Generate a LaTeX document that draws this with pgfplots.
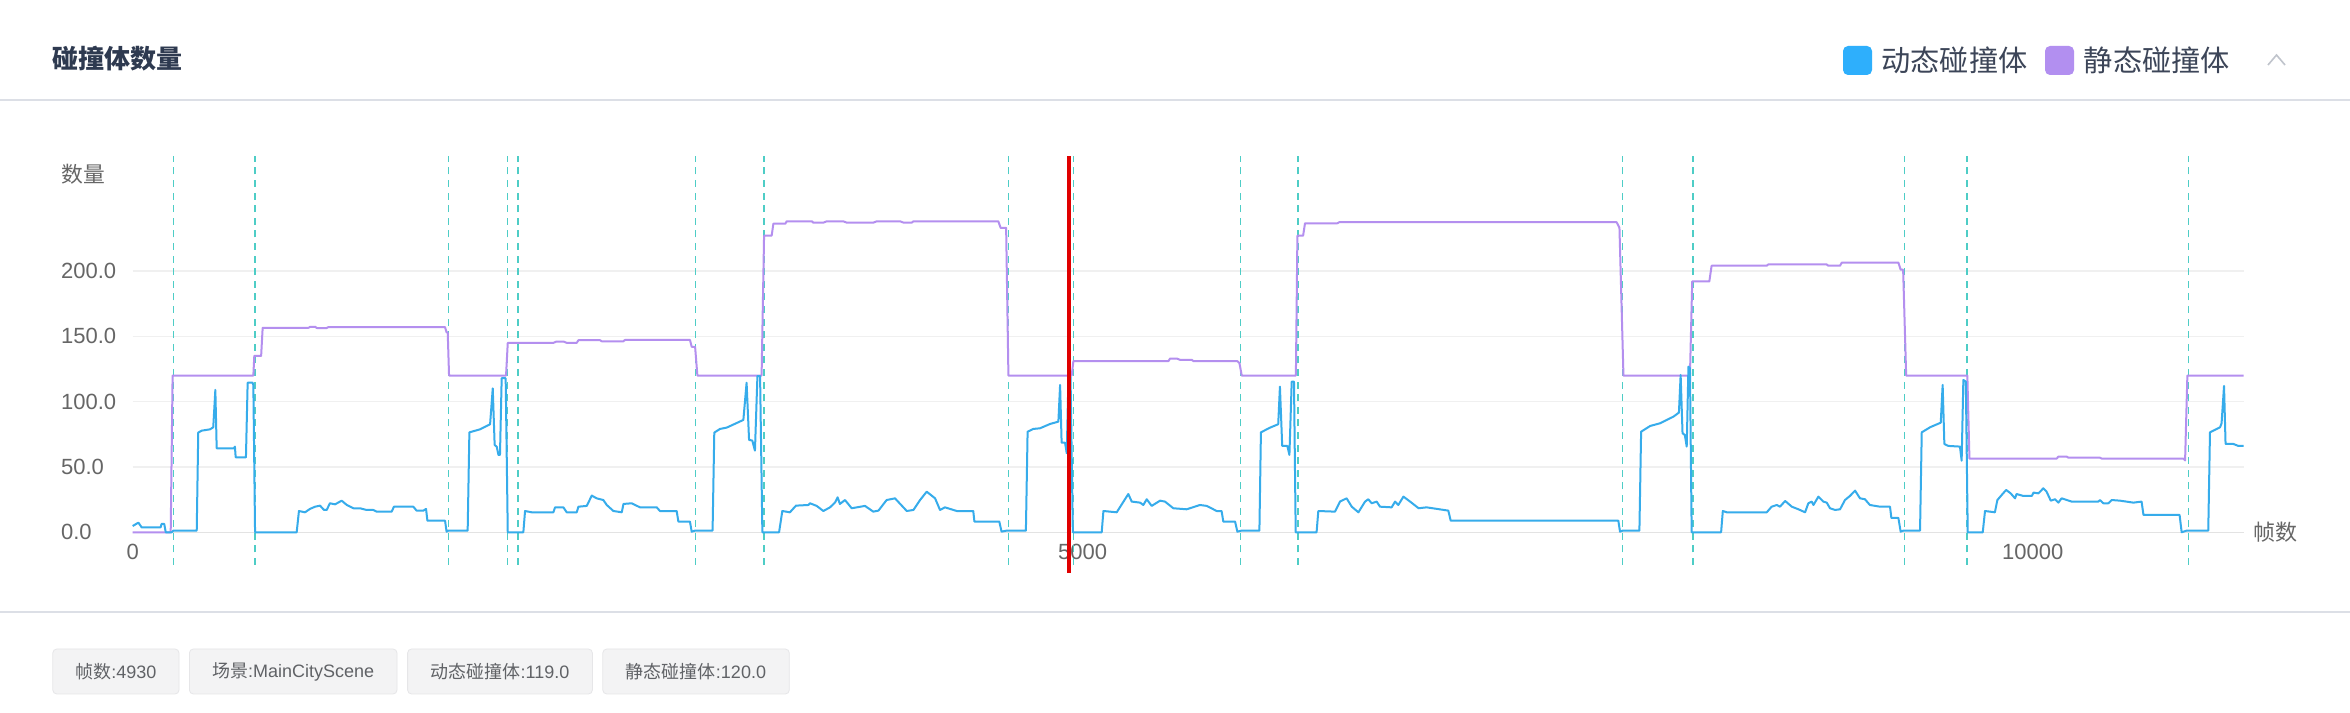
\documentclass[border=0pt]{standalone}
\usepackage{pgfplots}
\pgfplotsset{compat=1.18}
\usepackage{fontspec}
\setmainfont{Liberation Sans}
\newfontfamily\cjk{Noto Sans CJK SC}
\definecolor{dyn}{HTML}{36ACEB}
\definecolor{sta}{HTML}{B48FEF}
\definecolor{mlc}{HTML}{4ECDC6}
\definecolor{gridc}{HTML}{F0F0F0}
\definecolor{axisc}{HTML}{E3E3E3}
\definecolor{tickc}{HTML}{666666}
\definecolor{titlec}{HTML}{2E3A50}
\definecolor{legc}{HTML}{3C4558}
\definecolor{sepc}{HTML}{DCDFE6}
\definecolor{boxf}{HTML}{F3F3F4}
\definecolor{boxd}{HTML}{E6E6E8}
\definecolor{boxt}{HTML}{606266}
\definecolor{legblue}{HTML}{2EAFFC}
\definecolor{legpurple}{HTML}{B28FF0}
\definecolor{redl}{HTML}{E00000}
\definecolor{chev}{HTML}{C0C4CC}
\begin{document}
\begin{tikzpicture}[x=1pt,y=1pt]
\path[use as bounding box] (0,0) rectangle (1175,356);
\fill[white] (0,0) rectangle (1175,356);
% header
\node[anchor=west, inner sep=0pt, text=titlec, font=\fontsize{13}{15}\selectfont\cjk\bfseries] at (26,326.75) {碰撞体数量};
\fill[legblue, rounded corners=2.5pt] (921.5,318.5) rectangle (936,333);
\node[anchor=west, inner sep=0pt, text=legc, font=\fontsize{14.6}{17}\selectfont\cjk] at (940.5,326) {动态碰撞体};
\fill[legpurple, rounded corners=2.5pt] (1022.5,318.5) rectangle (1037,333);
\node[anchor=west, inner sep=0pt, text=legc, font=\fontsize{14.6}{17}\selectfont\cjk] at (1041.7,326) {静态碰撞体};
\draw[chev, line width=0.8pt] (1134,323.5) -- (1138.25,328.5) -- (1142.5,323.5);
\draw[sepc, line width=0.6pt] (0,306) -- (1175,306);
\draw[sepc, line width=0.6pt] (0,50) -- (1175,50);
% axis names
\node[anchor=west, inner sep=0pt, text=tickc, font=\fontsize{10.9}{13}\selectfont\cjk] at (30.5,269) {数量};
\node[anchor=west, inner sep=0pt, text=tickc, font=\fontsize{11}{13}\selectfont\cjk] at (1126.5,90.15) {帧数};
% bottom boxes
\draw[boxd, fill=boxf, rounded corners=2pt] (26.4,9) rectangle (89.5,31.5);
\node[inner sep=0pt, text=boxt, font=\fontsize{9}{11}\selectfont] at (57.95,20.25) {{\cjk 帧数}:4930};
\draw[boxd, fill=boxf, rounded corners=2pt] (94.7,9) rectangle (198.5,31.5);
\node[inner sep=0pt, text=boxt, font=\fontsize{9}{11}\selectfont] at (146.6,20.25) {{\cjk 场景}:MainCityScene};
\draw[boxd, fill=boxf, rounded corners=2pt] (203.8,9) rectangle (296.2,31.5);
\node[inner sep=0pt, text=boxt, font=\fontsize{9}{11}\selectfont] at (250,20.25) {{\cjk 动态碰撞体}:119.0};
\draw[boxd, fill=boxf, rounded corners=2pt] (301.4,9) rectangle (394.65,31.5);
\node[inner sep=0pt, text=boxt, font=\fontsize{9}{11}\selectfont] at (348.0,20.25) {{\cjk 静态碰撞体}:120.0};
\begin{axis}[
  at={(66.35pt,89.85pt)}, anchor=south west,
  scale only axis, width=1055.45pt, height=188.15pt,
  xmin=0, xmax=11110, ymin=0, ymax=288,
  clip=false,
  scaled x ticks=false, scaled y ticks=false,
  axis line style={draw=none},
  major tick length=0pt,
  xtick={0,5000,10000}, xticklabels={0,5000,10000},
  ytick={0,50,100,150,200}, yticklabels={0.0,50.0,100.0,150.0,200.0},
  ymajorgrids, grid style={color=gridc, line width=0.6pt},
  yticklabel style={anchor=west, inner sep=0pt, xshift=-36pt, font=\fontsize{11}{13}\selectfont, text=tickc},
  xticklabel style={anchor=north, inner sep=0pt, yshift=-5.6pt, font=\fontsize{11}{13}\selectfont, text=tickc},
]
\addplot[axisc, line width=0.7pt] coordinates {(0,0) (11110,0)};
\pgfplotsinvokeforeach{215,644,1662,1974,2027,2962,3322,4608,4952,5832,6133,7841,8212,9324,9655,10819}{
  \addplot[mlc, line width=0.7pt, dash pattern=on 3.5pt off 2.8pt] coordinates {(#1,-25) (#1,288)};
}
\addplot[sta, line width=1pt, line join=round] coordinates {
(0,0)(200,0)(210,120)(635,120)(640,135)(676,135)(684,156.5)(925,156.5)(935,157.3)(960,157.3)(970,156.3)(1020,156.3)(1030,157)(1644,157)(1652,153)(1658,153)(1665,120)(1965,120)(1974,145)(2214,145)(2231,146)(2267,146)(2284,145)(2337,145)(2346,147)(2460,147)(2468,146.2)(2583,146.2)(2591,147.2)(2933,147.2)(2942,142)(2960,142)(2972,120)(3310,120)(3323,227)(3363,227)(3372,236.2)(3435,236.2)(3442,238)(3575,238)(3582,237)(3635,237)(3653,238)(3740,238)(3758,237)(3898,237)(3916,238)(4039,238)(4057,237)(4100,237)(4109,238)(4556,238)(4568,233)(4597,233)(4609,120)(4942,120)(4951,131)(5451,131)(5460,133)(5495,133)(5512,132)(5574,132)(5583,131)(5814,131)(5825,129.5)(5837,120)(6122,120)(6130,227)(6160,227)(6170,236.5)(6340,236.5)(6350,237.3)(7810,237.3)(7825,233)(7846,120)(8196,120)(8208,192)(8298,192)(8310,204)(8600,204)(8608,205)(8916,205)(8924,204)(8986,204)(8995,206.4)(9293,206.4)(9305,201)(9318,201)(9334,120)(9656,120)(9667,56.4)(10126,56.4)(10135,57.9)(10179,57.9)(10188,57.1)(10354,57.1)(10363,56.4)(10793,56.4)(10802,55)(10814,120)(11110,120)
};
\addplot[dyn, line width=1pt, line join=round] coordinates {
(0,4.8)(30,7.4)(47,3.8)(147,3.8)(152,6.4)(166,6.4)(174,0)(205,0)(214,1.3)(337,1.3)(345,76.3)(363,77.8)(407,78.8)(424,80.4)(435,109)(442,64.3)(533,64.3)(538,65.6)(542,57.4)(596,57.4)(605,114.5)(631,114.5)(635,112.7)(644,0)(863,0)(875,16.3)(907,15.3)(933,17.9)(960,19.6)(986,20.4)(1007,17.1)(1021,17.1)(1038,22.2)(1065,21.4)(1100,24.2)(1126,21)(1161,18.4)(1196,18.4)(1231,17.1)(1266,17.1)(1284,15.8)(1363,15.8)(1375,19.6)(1477,19.6)(1494,16.6)(1530,16.6)(1544,17.9)(1551,8.9)(1644,8.9)(1652,0.5)(1661,1.3)(1763,1.3)(1772,76.5)(1828,78.8)(1881,82.7)(1895,110.2)(1905,66.8)(1916,65.5)(1925,59.2)(1933,59.2)(1942,117.9)(1963,117.9)(1974,0)(2056,0)(2065,16.3)(2100,15.3)(2214,15.3)(2223,19.1)(2267,19.1)(2284,15.3)(2337,15.3)(2346,19.6)(2390,20.2)(2416,28.1)(2442,26)(2477,24.7)(2495,20.9)(2530,16.3)(2574,15.3)(2583,21.7)(2626,22.2)(2670,19.1)(2758,19.1)(2775,16.3)(2863,16.3)(2872,8.2)(2933,8.2)(2942,0.5)(2960,1.3)(3052,1.3)(3061,76.3)(3091,79.1)(3126,80.1)(3214,86)(3231,114.5)(3244,70.7)(3261,70.2)(3275,62.5)(3288,119.6)(3302,119.6)(3314,0)(3402,0)(3419,16.3)(3459,15.3)(3491,20.4)(3556,20.9)(3565,22.2)(3600,20.2)(3635,16.3)(3670,19.1)(3696,22.7)(3710,26.8)(3722,21.7)(3749,24.7)(3784,18.4)(3854,20.2)(3898,15.8)(3925,16.6)(3968,24.7)(4012,26)(4074,16.3)(4109,17.1)(4144,24.7)(4179,31.1)(4223,26)(4249,17.1)(4275,19.1)(4337,16.3)(4424,16.3)(4430,8.2)(4561,8.2)(4573,0.5)(4600,1.3)(4701,1.3)(4710,77)(4740,79.1)(4775,79.6)(4828,82.9)(4872,84.7)(4881,112.8)(4889,68.6)(4907,68.6)(4916,60.5)(4925,119)(4936,119)(4948,0)(5100,0)(5109,16.3)(5179,15.3)(5240,29.3)(5258,23.5)(5302,22.7)(5319,20.9)(5337,25.3)(5363,20.2)(5407,24.2)(5433,23.5)(5477,18.4)(5547,17.6)(5617,20.9)(5653,20.2)(5705,16.3)(5731,16.3)(5740,8.2)(5802,8.2)(5814,0.5)(5837,1.3)(5930,1.3)(5938,76.5)(5986,80.1)(6029,82.7)(6038,111.5)(6050,66.1)(6077,66.1)(6088,59.2)(6100,115.3)(6112,115.3)(6121,0)(6231,0)(6240,16.3)(6328,15.8)(6354,23.5)(6389,26)(6416,19.6)(6451,15.3)(6486,23.5)(6503,25.3)(6521,22.2)(6547,23.5)(6565,19.6)(6626,19.1)(6644,23.5)(6661,20.9)(6688,27.3)(6723,23.5)(6768,18.4)(6810,19.1)(6924,16.6)(6937,8.9)(7819,8.9)(7828,0.5)(7842,1.3)(7930,1.3)(7939,77)(7987,81.4)(8038,83.4)(8109,88.5)(8138,91.6)(8147,120.4)(8157,75.8)(8169,74.5)(8179,65.6)(8188,126.8)(8196,125.5)(8205,0)(8360,0)(8369,16.3)(8390,15.3)(8600,15.3)(8626,19.6)(8653,20.9)(8670,19.6)(8697,24)(8732,19.6)(8767,17.6)(8802,15.3)(8819,22.2)(8837,23.5)(8846,20.9)(8872,27.3)(8898,23.5)(8916,22.7)(8933,18.4)(8960,17.1)(8986,17.6)(9012,24.7)(9038,27.8)(9065,31.9)(9091,26)(9117,25.3)(9143,20.9)(9196,19.6)(9249,19.6)(9256,11)(9293,11)(9305,0.5)(9320,1.3)(9407,1.3)(9416,76.5)(9460,80.4)(9516,83.9)(9526,112.8)(9535,67.6)(9556,66.1)(9617,65.6)(9626,54.8)(9635,116.6)(9648,115.3)(9658,0)(9737,0)(9749,16.3)(9801,15.3)(9814,24.7)(9837,28.6)(9860,32.4)(9884,29.8)(9907,26)(9915,29.3)(9951,27.8)(9995,27.8)(10004,30.4)(10030,29.8)(10056,33.7)(10073,31.1)(10095,24.2)(10117,25.3)(10135,22.7)(10152,26)(10205,23.5)(10345,23.5)(10354,24.7)(10372,22.2)(10398,22.2)(10416,24.7)(10460,24.2)(10530,22.7)(10573,23.5)(10583,13.3)(10773,13.3)(10784,0)(10810,1.3)(10924,1.3)(10933,76.5)(10986,80.4)(10994,83.4)(11007,112)(11015,67.6)(11056,67.6)(11082,66.1)(11110,66.1)
};
\addplot[redl, line width=2pt] coordinates {(4930,-31) (4930,288)};
\end{axis}
\end{tikzpicture}
\end{document}
